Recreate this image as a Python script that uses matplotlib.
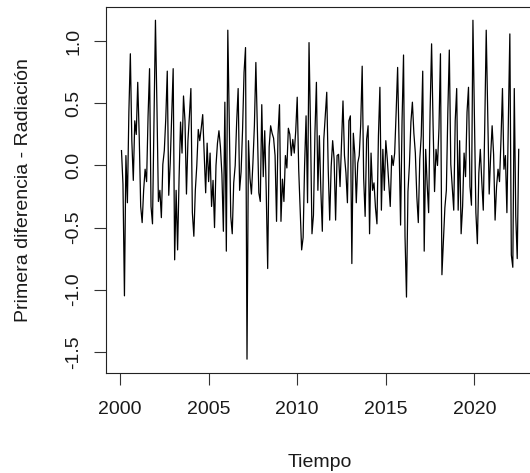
import numpy as np
import matplotlib
matplotlib.use("Agg")
import matplotlib.pyplot as plt

plt.rcParams["font.family"] = ["Liberation Sans", "DejaVu Sans"]
plt.rcParams["axes.unicode_minus"] = False

# Monthly first differences of solar radiation, Feb 2000 onward
diff_2000_2002 = [0.12, -0.15, -1.05, 0.08, -0.30, 0.43, 0.90, 0.20, -0.12, 0.36, 0.25, 0.67,
                  0.24, -0.33, -0.46, -0.20, -0.03, -0.13, 0.40, 0.78, -0.33, -0.47, 0.35, 1.17,
                  0.48, -0.29, -0.20, -0.42, 0.01, 0.12, 0.38, 0.76, -0.24, 0.02, 0.39, 0.78]
diff_2003_2006 = [-0.76, -0.20, -0.68, -0.10, 0.35, 0.10, 0.56, 0.36, -0.23, 0.20, 0.40, 0.62,
                  -0.38, -0.57, -0.20, 0.00, 0.29, 0.20, 0.30, 0.41, 0.09, -0.22, 0.18, -0.13,
                  0.10, -0.33, -0.12, -0.50, 0.00, 0.18, 0.28, 0.15, -0.07, -0.53, 0.51, -0.69,
                  1.09, 0.35, -0.41, -0.55, -0.14, 0.00, 0.35, 0.62]
diff_2006_2010 = [-0.20, -0.05, 0.29, 0.75, 0.95, -1.56, 0.20, -0.10, -0.23, 0.02, 0.32, 0.83,
                  0.32, -0.22, -0.29, 0.49, -0.09, 0.28, -0.20, -0.83, 0.15, 0.32, 0.26, 0.22,
                  0.08, -0.45, 0.25, 0.49, -0.45, -0.11, -0.29, 0.08, -0.02, 0.30, 0.25, 0.08,
                  0.21, 0.10, 0.28, 0.55, -0.03, -0.36, -0.68, -0.58, 0.00, 0.40, -0.30, 0.99]
diff_2010_2014 = [0.30, -0.55, -0.40, 0.26, 0.67, -0.20, 0.24, -0.20, -0.53, 0.21, 0.40, 0.59,
                  -0.03, -0.44, -0.01, 0.20, 0.05, -0.44, 0.08, 0.09, -0.17, 0.18, 0.52, 0.08,
                  -0.06, -0.30, 0.36, 0.40, -0.79, 0.26, 0.09, -0.30, 0.02, 0.08, 0.33, 0.80,
                  -0.10, -0.41, 0.21, 0.32, -0.55, 0.10, -0.20, -0.14, -0.34, -0.47, 0.24, 0.63]
diff_2014_2018 = [-0.36, 0.13, -0.20, 0.20, 0.05, -0.14, -0.33, 0.08, 0.00, 0.10, 0.43, 0.79,
                  0.16, -0.48, 0.36, 0.89, -0.57, -1.06, -0.21, 0.01, 0.35, 0.51, 0.26, 0.10,
                  -0.25, -0.46, 0.05, 0.24, 0.76, -0.69, 0.13, -0.15, -0.38, 0.44, 0.98, 0.33,
                  -0.21, 0.13, 0.00, 0.30, 0.90, -0.88, -0.60, -0.34, -0.20, 0.43, 0.93]
diff_2018_2022 = [0.01, -0.17, -0.36, 0.36, 0.62, -0.36, 0.20, -0.55, -0.33, 0.10, -0.09, 0.43,
                  0.63, -0.17, -0.32, 1.17, 0.40, -0.38, -0.63, -0.06, 0.13, -0.13, -0.36, 0.32,
                  1.09, 0.43, -0.23, 0.08, 0.32, 0.09, -0.44, -0.17, -0.03, -0.13, 0.21, 0.62,
                  -0.03, 0.08, -0.38, 0.37, 1.06, -0.72, -0.82, 0.62, -0.41, -0.75, 0.13]

start_year = 2000 + 1 / 12
x_ticks = [2000, 2005, 2010, 2015, 2020]
y_ticks = [-1.5, -1.0, -0.5, 0.0, 0.5, 1.0]
y_tick_labels = ["-1.5", "-1.0", "-0.5", "0.0", "0.5", "1.0"]

values = np.concatenate([diff_2000_2002, diff_2003_2006, diff_2006_2010,
                         diff_2010_2014, diff_2014_2018, diff_2018_2022])
time = start_year + np.arange(len(values)) / 12

W, H = 530, 473
fig = plt.figure(figsize=(W / 100, H / 100), dpi=100)
ax = fig.add_axes([105.6 / W, 100.3 / H, 429 / W, 366 / H])

ax.plot(time, values, color="black", lw=0.9)
ax.margins(x=0.04, y=0.04)

ax.set_xticks(x_ticks)
ax.set_xticklabels([str(v) for v in x_ticks])
ax.set_yticks(y_ticks)
ax.set_yticklabels(y_tick_labels)

ax.tick_params(axis="both", direction="out", length=8.6, width=0.8,
               color="#333333", labelsize=14, labelcolor="#1a1a1a")
ax.tick_params(axis="x", pad=12)
ax.tick_params(axis="y", pad=8, labelrotation=90)
for lbl in ax.get_yticklabels():
    lbl.set_va("center")

for sp in ax.spines.values():
    sp.set_linewidth(0.8)
    sp.set_color("#222222")

ax.set_xlabel("Tiempo", fontsize=14, color="#1a1a1a")
ax.xaxis.set_label_coords(0.5, -0.244)
ax.xaxis.label.set_va("center")
ax.set_ylabel("Primera diferencia - Radiación", fontsize=14, color="#1a1a1a")
ax.yaxis.set_label_coords(-0.1925, 0.5)
ax.yaxis.label.set_va("center")
ax.yaxis.label.set_ha("center")

fig.savefig("out.png", dpi=100)
